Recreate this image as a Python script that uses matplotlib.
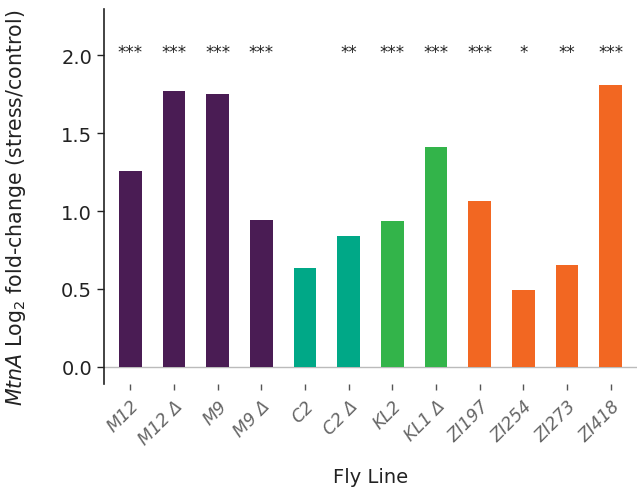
import matplotlib
matplotlib.use("Agg")
import matplotlib.pyplot as plt

lines = ["M12", "M12 Δ", "M9", "M9 Δ", "C2", "C2 Δ", "KL2", "KL1 Δ",
         "ZI197", "ZI254", "ZI273", "ZI418"]
fold_change = [1.26, 1.77, 1.75, 0.94, 0.635, 0.84, 0.935, 1.41,
               1.065, 0.495, 0.655, 1.81]
significance = ["***", "***", "***", "***", "", "**", "***", "***",
                "***", "*", "**", "***"]
groups = ["M", "M", "M", "M", "C", "C", "KL", "KL", "ZI", "ZI", "ZI", "ZI"]
group_colors = {"M": "#4a1c54", "C": "#00a887", "KL": "#33b44a", "ZI": "#f26722"}

plt.rcParams["font.family"] = ["DejaVu Sans"]

fig = plt.figure(figsize=(6.38, 4.89), dpi=100)
ax = fig.add_axes([0.163, 0.213, 0.835, 0.767])

x = list(range(len(lines)))
ax.bar(x, fold_change, width=0.52,
       color=[group_colors[g] for g in groups], zorder=2)
ax.axhline(0, color="#bbbbbb", lw=1.0, zorder=1)

for xi, s in zip(x, significance):
    if s:
        ax.text(xi, 2.02, s, ha="center", va="center", fontsize=12, color="#222222")

ax.set_xlim(-0.6, 11.6)
ax.set_ylim(-0.11, 2.3)
ax.set_yticks([0.0, 0.5, 1.0, 1.5, 2.0])
ax.set_yticklabels(["0.0", "0.5", "1.0", "1.5", "2.0"])
ax.set_xticks(x)
ax.set_xticklabels(lines, rotation=45, ha="right", va="top",
                   rotation_mode="anchor", style="italic", color="#666666",
                   fontsize=12.5)

for side in ["top", "right", "bottom"]:
    ax.spines[side].set_visible(False)
ax.spines["left"].set_color("#222222")
ax.spines["left"].set_linewidth(1.2)

ax.tick_params(axis="y", labelsize=14, colors="#222222", length=5, width=1)
ax.tick_params(axis="x", length=4, width=1, color="#555555", pad=5)

ax.set_ylabel(r"$\it{MtnA}$ Log$_2$ fold-change (stress/control)",
              fontsize=14.8, color="#222222")
ax.yaxis.set_label_coords(-0.143, 0.472)
ax.set_xlabel("Fly Line", fontsize=14, color="#222222", labelpad=14)

fig.savefig("out.png", dpi=100)
